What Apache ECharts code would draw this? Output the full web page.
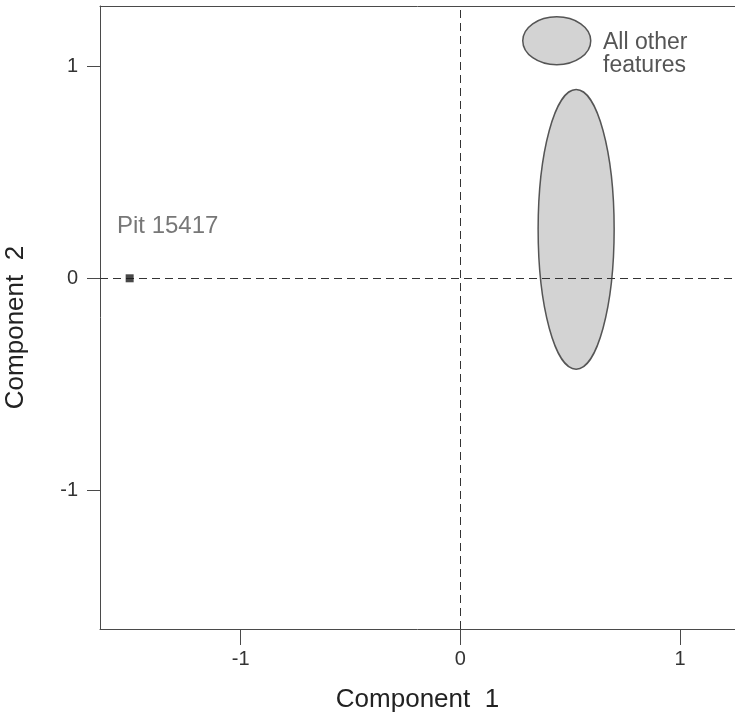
<!DOCTYPE html>
<html>
<head>
<meta charset="utf-8">
<script src="https://cdn.jsdelivr.net/npm/echarts@6/dist/echarts.min.js"></script>
<style>html,body{margin:0;padding:0;background:#fff}#c{width:735px;height:719px}</style>
</head>
<body>
<div id="c"></div>
<script>
// Data
var xTicks = [-1, 0, 1];
var yTicks = [-1, 0, 1];
var pointName = ['Pit 15417'];
var pointX = [-1.505];
var pointY = [0.0];
var groupName = 'All other\nfeatures';
var ellipseCx = [0.527];
var ellipseCy = [0.231];
var ellipseRx = [0.173];
var ellipseRy = [0.66];

var chart = echarts.init(document.getElementById('c'));
var axisColor = '#4a4a4a';
var font = 'Liberation Sans, Arial, sans-serif';

chart.setOption({
  animation: false,
  title: {
    text: groupName, left: 603, top: 31, padding: 0,
    textStyle: { color: '#555', fontSize: 23, fontWeight: 'normal', fontFamily: font, lineHeight: 23 }
  },
  grid: { left: 100, right: 0, top: 6, bottom: 90, show: false, containLabel: false, outerBoundsMode: 'none' },
  legend: {
    left: 517, top: 11,
    itemWidth: 68, itemHeight: 48,
    symbolKeepAspect: false,
    icon: 'path://M0,50 A50,50 0 1,1 100,50 A50,50 0 1,1 0,50 Z',
    itemStyle: { color: '#d3d3d3', borderColor: '#555', borderWidth: 1.5 },
    formatter: function () { return ''; },
    data: [groupName]
  },
  xAxis: [{
    type: 'value', min: -1.64, max: 1.25,
    name: 'Component  1', nameLocation: 'middle', nameGap: 58,
    nameTextStyle: { color: '#222', fontSize: 26, fontFamily: font },
    splitLine: { show: false },
    axisLine: { show: true, onZero: false, lineStyle: { color: axisColor, width: 1 } },
    axisTick: { show: true, length: 16, customValues: xTicks, lineStyle: { color: axisColor } },
    axisLabel: { customValues: xTicks, margin: 20, color: '#333', fontSize: 20, fontFamily: font }
  }, {
    type: 'value', min: -1.64, max: 1.25, position: 'top',
    splitLine: { show: false },
    axisLine: { show: true, onZero: false, lineStyle: { color: axisColor, width: 1 } },
    axisTick: { show: false }, axisLabel: { show: false }
  }],
  yAxis: {
    type: 'value', min: -1.655, max: 1.285,
    name: 'Component  2', nameLocation: 'middle', nameGap: 71,
    nameTextStyle: { color: '#222', fontSize: 26, fontFamily: font, padding: [0, 20, 0, 0] },
    splitLine: { show: false },
    axisLine: { show: true, onZero: false, lineStyle: { color: axisColor, width: 1 } },
    axisTick: { show: true, length: 13, customValues: yTicks, lineStyle: { color: axisColor } },
    axisLabel: { customValues: yTicks, margin: 22, color: '#333', fontSize: 20, fontFamily: font }
  },
  series: [
    {
      name: groupName,
      type: 'custom',
      z: 2,
      itemStyle: { color: '#d3d3d3', borderColor: '#555', borderWidth: 1.5 },
      data: ellipseCx.map(function (v, i) { return [v, ellipseCy[i], ellipseRx[i], ellipseRy[i]]; }),
      renderItem: function (params, api) {
        var c = api.coord([api.value(0), api.value(1)]);
        var s = api.size([api.value(2), api.value(3)]);
        return {
          type: 'ellipse',
          shape: { cx: c[0], cy: c[1], rx: s[0], ry: s[1] },
          style: { fill: '#d3d3d3', stroke: '#555', lineWidth: 1.5 }
        };
      }
    },
    {
      name: 'point',
      type: 'scatter',
      z: 5,
      symbol: 'rect',
      symbolSize: 8,
      itemStyle: { color: '#1a1a1a' },
      data: pointX.map(function (v, i) { return { name: pointName[i], value: [v, pointY[i]] }; }),
      label: {
        show: true, position: 'inside', offset: [38, -52],
        formatter: '{b}', color: '#555', fontSize: 24, fontFamily: font
      },
      markLine: {
        silent: true, symbol: 'none', label: { show: false },
        lineStyle: { color: '#333', width: 1, type: [8, 5] },
        data: [{ xAxis: 0 }, { yAxis: 0 }]
      }
    }
  ]
});
</script>
</body>
</html>
